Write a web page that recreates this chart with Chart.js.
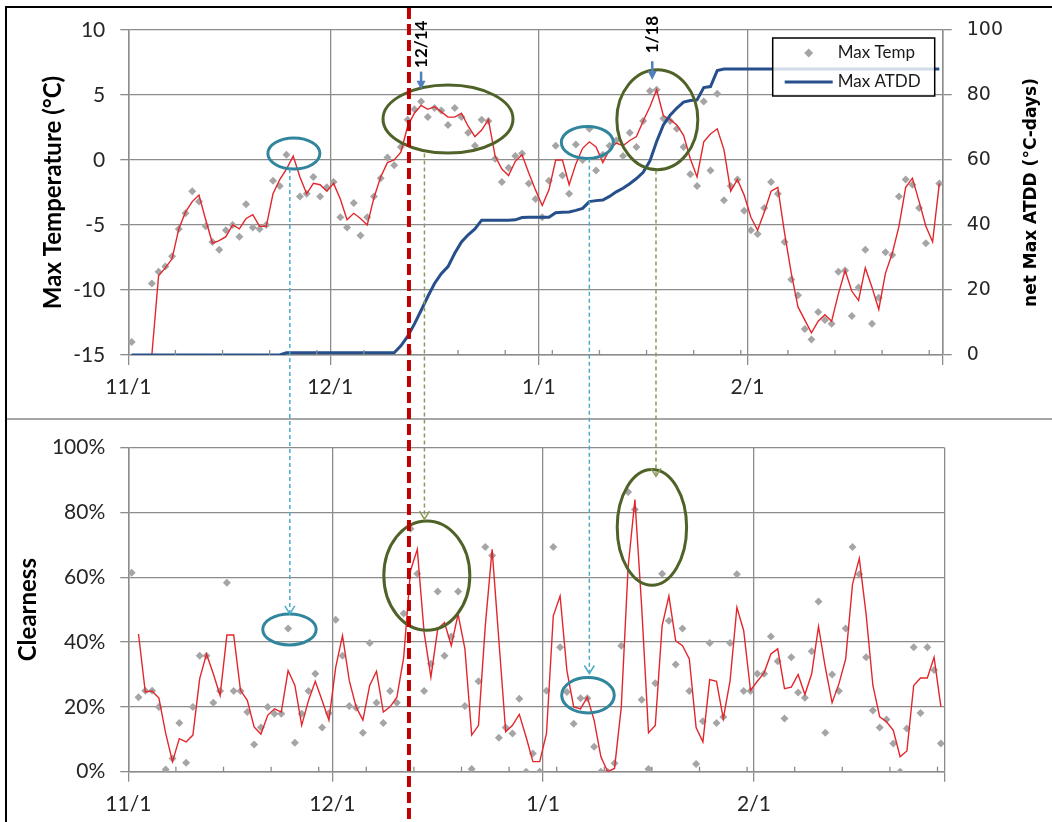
<!DOCTYPE html>
<html>
<head>
<meta charset="utf-8">
<title>Max temperature, ATDD and clearness</title>
<script src="https://cdn.jsdelivr.net/npm/chart.js@4.4.1/dist/chart.umd.min.js"></script>
<style>
  html, body { margin: 0; padding: 0; background: #fff; }
  #wrap { position: relative; width: 1052px; height: 822px; overflow: hidden; }
  #frame { position: absolute; left: 5px; top: 6px; width: 1060px; height: 830px;
           border-left: 2px solid #000; border-top: 2px solid #000; }
  #sep { position: absolute; left: 7px; right: 0; top: 418px; border-top: 2px solid #a6a6a6; }
  canvas { position: absolute; left: 0; }
  #topChart { top: 0; }
  #bottomChart { top: 420px; }
  #overlay { top: 0; pointer-events: none; }
</style>
</head>
<body>
<div id="wrap">
  <div id="frame"></div>
  <div id="sep"></div>
  <canvas id="topChart" width="1052" height="419"></canvas>
  <canvas id="bottomChart" width="1052" height="402"></canvas>
  <canvas id="overlay"></canvas>
</div>
<script>
// ---- data: one value per day, index 0 = 11/1 ----
const monthStarts = [0, 30, 61, 92];
const monthLabels = ['11/1', '12/1', '1/1', '2/1'];

const maxTemp = [
  -14.0, null, null, -9.5, -8.6, -8.2, -7.4, -5.3, -4.1, -2.4,
  -3.2, -5.1, -6.3, -6.9, -5.4, -5.0, -5.9, -3.4, -5.2, -5.3,
  -5.0, -1.6, -2.0, 0.4, null, -2.8, -2.6, -1.3, -2.8, -2.1,
  -1.7, -4.4, -5.2, -3.3, -5.8, -4.4, -2.8, -1.4, 0.2, -0.4,
  1.0, 3.1, 3.9, 4.5, 3.3, 4.0, 3.8, 2.7, 4.0, 3.3,
  2.1, 1.1, 3.1, 3.0, 0.1, -1.7, -0.6, 0.3, 0.5, -1.8,
  -3.0, -4.4, -1.6, 1.1, -1.2, -2.6, 1.2, 0.0, 2.4, -0.8,
  0.4, 1.1, 1.5, 0.3, 2.1, 1.0, 3.0, 5.3, 5.4, 3.2,
  3.0, 2.4, 1.0, -1.1, -2.0, 4.5, -0.8, 5.1, -3.1, -2.0,
  -1.5, -3.9, -5.4, -5.7, -3.7, -1.7, -2.6, -6.3, -9.2, -10.4,
  -13.0, -13.8, -11.7, -12.3, -12.6, -8.6, -8.5, -12.0, -9.8, -6.9,
  -12.6, -10.6, -7.1, -7.3, -2.8, -1.5, -1.9, -3.7, -6.4, null,
  -1.8
];

const maxTempAvg = [
  null, null, null, -15.0, -8.9, -8.3, -7.6, -5.3, -4.0, -3.2,
  -2.7, -4.6, -6.4, -6.2, -5.9, -5.0, -5.3, -4.5, -4.2, -5.1,
  -5.1, -2.6, -1.5, -0.7, 0.3, -1.3, -2.6, -1.8, -1.9, -2.4,
  -1.8, -3.0, -4.6, -4.1, -4.5, -5.0, -2.9, -1.3, -0.2, 0.0,
  0.6, 2.6, 3.6, 4.2, 3.9, 4.1, 3.7, 3.3, 3.3, 3.6,
  2.6, 1.8, 2.3, 3.1, 0.3, -0.7, -1.2, -0.1, 0.4, -1.0,
  -2.3, -3.5, -2.3, 0.0, 0.0, -1.9, -0.3, 0.9, 1.4, 1.0,
  -0.2, 0.8, 1.3, 1.1, 1.5, 1.8, 3.0, 4.1, 5.4, 3.4,
  3.1, 2.7, 1.9, 0.1, -1.3, 1.4, 2.0, 2.4, 0.8, -2.4,
  -1.5, -2.7, -4.4, -5.4, -4.0, -2.4, -2.1, -5.6, -8.7, -11.3,
  -12.3, -13.3, -12.4, -11.9, -12.4, -10.3, -8.5, -10.1, -10.8, -8.3,
  -9.8, -11.5, -8.7, -7.2, -5.1, -2.1, -1.4, -3.2, -5.1, -6.3,
  -1.8
];

const maxAtdd = [
  0, 0, 0, 0, 0, 0, 0, 0, 0, 0,
  0, 0, 0, 0, 0, 0, 0, 0, 0, 0,
  0, 0, 0, 0.7, 0.7, 0.7, 0.7, 0.7, 0.7, 0.7,
  0.7, 0.7, 0.7, 0.7, 0.7, 0.7, 0.7, 0.7, 0.7, 0.7,
  2.8, 5.7, 9.5, 13.7, 18.0, 22.0, 25.0, 27.2, 31.3, 34.8,
  37.0, 38.8, 41.5, 41.5, 41.5, 41.5, 41.5, 41.6, 42.3, 42.4,
  42.4, 42.4, 42.4, 43.8, 43.9, 44.0, 44.5, 45.1, 47.2, 47.5,
  47.7, 48.8, 50.2, 51.3, 52.7, 54.3, 56.2, 59.7, 65.7, 70.8,
  73.8, 76.0, 77.8, 78.3, 78.5, 82.3, 82.6, 87.5, 88, 88,
  88, 88, 88, 88, 88, 88, 88, 88, 88, 88,
  88, 88, 88, 88, 88, 88, 88, 88, 88, 88,
  88, 88, 88, 88, 88, 88, 88, 88, 88, 88,
  88
];

const clearness = [
  61.4, 23.0, 25.0, 25.0, 20.0, 0.7, 4.1, 15.0, 2.8, 20.0,
  35.8, 35.8, 21.3, 24.9, 58.3, 24.9, 24.9, 18.4, 8.4, 13.6,
  20.0, 17.9, 17.9, 44.2, 8.9, 17.9, 24.9, 30.2, 13.6, 18.0,
  46.9, 35.8, 20.3, 19.7, 12.0, 39.7, 21.3, 15.0, 24.9, 21.3,
  48.8, 75.0, 61.1, 24.9, 33.3, 55.6, 35.8, 41.7, 55.6, 20.3,
  0.8, 27.9, 69.3, 66.7, 10.5, 13.6, 11.8, 22.5, 0.0, 5.6,
  0.0, 25.0, 69.3, 38.4, 24.6, 14.8, 22.7, 22.7, 7.7, 0.0,
  0.0, 2.6, 38.9, 86.3, 80.9, 22.2, 0.8, 27.3, 61.1, 46.6,
  33.1, 44.2, 24.9, 2.4, 15.6, 39.7, 15.0, 16.9, 39.7, 60.9,
  24.9, 24.9, 30.2, 30.2, 41.7, 34.1, 16.4, 35.3, 24.4, 22.8,
  37.2, 52.5, 12.0, 30.0, 24.9, 44.2, 69.3, 60.9, 35.3, 18.9,
  13.6, 16.1, 8.7, 0.0, 13.3, 38.4, 18.1, 38.4, 31.4, 8.7
];

const clearnessAvg = [
  null, 42.5, 24.6, 24.9, 22.7, 11.8, 3.1, 10.2, 9.2, 11.3,
  28.7, 36.3, 30.2, 23.5, 42.2, 42.2, 25.1, 22.0, 13.8, 11.6,
  17.4, 19.4, 18.4, 31.2, 26.6, 14.3, 22.0, 27.9, 22.0, 15.9,
  32.2, 42.0, 28.1, 20.0, 15.9, 26.6, 31.0, 18.4, 20.0, 23.0,
  35.3, 62.0, 68.6, 43.0, 29.2, 44.0, 46.0, 38.9, 48.6, 37.9,
  11.3, 14.3, 45.0, 68.6, 40.4, 12.3, 14.3, 17.7, 10.7, 3.1,
  3.1, 11.8, 48.1, 54.2, 31.2, 20.0, 19.4, 23.0, 15.9, 4.6,
  0.0, 1.0, 20.0, 63.0, 84.0, 50.7, 12.0, 14.3, 45.0, 54.2,
  40.4, 38.9, 34.8, 13.6, 9.2, 28.4, 27.9, 16.4, 28.1, 50.7,
  43.5, 25.1, 27.9, 30.5, 36.3, 37.9, 25.6, 26.1, 30.0, 23.8,
  30.2, 44.8, 32.2, 21.3, 27.1, 34.8, 57.8, 65.8, 48.6, 26.6,
  16.9, 15.4, 12.8, 4.6, 6.4, 26.6, 28.9, 28.9, 35.3, 20.0
];

// ---- styling ----
const GRID = '#8c8c8c';
const TEXT = '#262626';
const TEAL = '#31859c';
const TEAL_LIGHT = '#4bacc6';
const OLIVE = '#4f6228';
const OLIVE_LIGHT = '#8a9a5b';
const tickFont = { family: 'Lato', size: 21 };
const titleFont = { family: 'Lato', size: 24, weight: 'bold' };

// each day's value sits in the middle of its day on the date axis
const toPoints = arr => arr.map((v, i) => ({ x: i + 0.5, y: v }));

const weekDays = [];
for (let d = 7; d < 121; d += 7) weekDays.push(d);

function dateAxis(maxDay, height) {
  const isMajor = v => monthStarts.includes(v) || v === maxDay;
  const gridColor = c => (c.tick && isMajor(c.tick.value)) ? GRID : 'rgba(0,0,0,0)';
  return {
    type: 'linear',
    min: 0,
    max: maxDay,
    afterBuildTicks: s => { s.ticks = monthStarts.concat([maxDay]).map(v => ({ value: v })); },
    afterFit: s => { s.height = height; },
    ticks: {
      autoSkip: false, maxRotation: 0, padding: 10, color: TEXT, font: tickFont,
      callback: v => { const k = monthStarts.indexOf(v); return k < 0 ? '' : monthLabels[k]; }
    },
    grid: { color: gridColor, tickColor: gridColor, lineWidth: 1.3, tickLength: 10 },
    border: { color: GRID, width: 1.5 }
  };
}

// small weekly tick marks pointing into the plot
const innerTicks = {
  id: 'innerTicks',
  afterDraw(chart) {
    const { ctx, chartArea } = chart;
    const x = chart.scales.x;
    ctx.save();
    ctx.strokeStyle = GRID;
    ctx.lineWidth = 1.3;
    weekDays.forEach(d => {
      if (d >= x.max) return;
      const px = x.getPixelForValue(d);
      ctx.beginPath();
      ctx.moveTo(px, chartArea.bottom);
      ctx.lineTo(px, chartArea.bottom - 5);
      ctx.stroke();
    });
    ctx.restore();
  }
};

// framed legend inside the top-right corner, plus the right axis title
const topExtras = {
  id: 'topExtras',
  afterDatasetsDraw(chart) {
    const { ctx, chartArea: a } = chart;
    const x0 = a.right - 170, y0 = a.top + 8, w = 162, h = 58;
    ctx.save();
    ctx.fillStyle = 'rgba(255,255,255,0.8)';
    ctx.fillRect(x0, y0, w, h);
    ctx.strokeStyle = '#000';
    ctx.lineWidth = 1.5;
    ctx.strokeRect(x0, y0, w, h);

    ctx.fillStyle = '#a5a5a5';
    ctx.beginPath();
    const cx = x0 + 36, cy = y0 + 15;
    ctx.moveTo(cx, cy - 4.5); ctx.lineTo(cx + 4.5, cy); ctx.lineTo(cx, cy + 4.5); ctx.lineTo(cx - 4.5, cy);
    ctx.closePath();
    ctx.fill();

    ctx.strokeStyle = '#264f8b';
    ctx.lineWidth = 3;
    ctx.beginPath();
    ctx.moveTo(x0 + 12, y0 + 44);
    ctx.lineTo(x0 + 60, y0 + 44);
    ctx.stroke();

    ctx.fillStyle = '#1a1a1a';
    ctx.font = '17px Lato';
    ctx.textBaseline = 'middle';
    ctx.fillText('Max Temp', x0 + 65, y0 + 15);
    ctx.fillText('Max ATDD', x0 + 65, y0 + 44);
    ctx.restore();
  },
  afterDraw(chart) {
    const { ctx, chartArea: a } = chart;
    const y2 = chart.scales.y2;
    ctx.save();
    ctx.translate(y2.right - 20, (a.top + a.bottom) / 2);
    ctx.rotate(-Math.PI / 2);
    ctx.fillStyle = '#000';
    ctx.font = 'bold 17px "DejaVu Sans"';
    ctx.textAlign = 'center';
    ctx.textBaseline = 'middle';
    ctx.fillText('net Max ATDD (°C-days)', 0, 0);
    ctx.restore();
  }
};

const topChart = new Chart(document.getElementById('topChart'), {
  type: 'line',
  data: {
    datasets: [
      { label: 'Max Temp', data: toPoints(maxTemp), showLine: false, pointStyle: 'rectRot',
        pointRadius: 4, pointBackgroundColor: '#a5a5a5', pointBorderWidth: 0, order: 3 },
      { label: 'Moving average', data: toPoints(maxTempAvg), borderColor: '#e3262b', borderWidth: 1.4,
        pointRadius: 0, order: 2 },
      { label: 'Max ATDD', data: toPoints(maxAtdd), yAxisID: 'y2', borderColor: '#264f8b', borderWidth: 3,
        pointRadius: 0, order: 1 }
    ]
  },
  options: {
    responsive: false,
    animation: false,
    layout: { padding: { top: 30, left: 0, right: 0, bottom: 0 } },
    plugins: { legend: { display: false }, tooltip: { enabled: false } },
    scales: {
      x: dateAxis(121, 64),
      y: {
        position: 'left', min: -15, max: 10,
        afterFit: s => { s.width = 128.3; },
        ticks: { stepSize: 5, padding: 15, color: TEXT, font: tickFont },
        grid: { color: GRID, lineWidth: 1.3, tickLength: 8 },
        border: { color: GRID, width: 1.5 },
        title: { display: true, text: 'Max Temperature (°C)', color: '#000', font: titleFont,
                 padding: { top: 38.6, bottom: 0 } }
      },
      y2: {
        position: 'right', min: 0, max: 100,
        afterFit: s => { s.width = 109.3; },
        ticks: { stepSize: 20, padding: 15, color: TEXT, font: { family: 'DejaVu Sans', size: 19 } },
        grid: { drawOnChartArea: false, color: GRID, lineWidth: 1.3, tickLength: 9 },
        border: { color: GRID, width: 1.5 }
      }
    }
  },
  plugins: [innerTicks, topExtras]
});

const bottomChart = new Chart(document.getElementById('bottomChart'), {
  type: 'line',
  data: {
    datasets: [
      { label: 'Clearness', data: toPoints(clearness), showLine: false, pointStyle: 'rectRot',
        pointRadius: 4, pointBackgroundColor: '#a5a5a5', pointBorderWidth: 0, order: 2 },
      { label: 'Moving average', data: toPoints(clearnessAvg), borderColor: '#e3262b', borderWidth: 1.4,
        pointRadius: 0, order: 1 }
    ]
  },
  options: {
    responsive: false,
    animation: false,
    layout: { padding: { top: 26, left: 0, right: 107.7, bottom: 0 } },
    plugins: { legend: { display: false }, tooltip: { enabled: false } },
    scales: {
      x: dateAxis(120, 50.3),
      y: {
        min: 0, max: 100,
        afterFit: s => { s.width = 128.3; },
        ticks: { stepSize: 20, padding: 15, color: TEXT, font: tickFont, callback: v => v + '%' },
        grid: { color: GRID, lineWidth: 1.3, tickLength: 8 },
        border: { color: GRID, width: 1.5 },
        title: { display: true, text: 'Clearness', color: '#000', font: titleFont,
                 padding: { top: 13.9, bottom: 0 } }
      }
    }
  },
  plugins: [innerTicks]
});

// ---- annotations drawn across both charts ----
const BOTTOM_OFFSET = 420;
const ringsTop = [
  { x: 24.6, y: 0.5, rx: 26, ry: 15.5, color: TEAL },
  { x: 47.5, y: 3.15, rx: 65, ry: 34, color: OLIVE },
  { x: 68.2, y: 1.35, rx: 26, ry: 16, color: TEAL },
  { x: 78.6, y: 3.1, rx: 40.5, ry: 50, color: OLIVE }
];
const ringsBottom = [
  { x: 23.7, y: 43.9, rx: 26.7, ry: 15.5, color: TEAL },
  { x: 43.9, y: 60.5, rx: 43, ry: 54.7, color: OLIVE },
  { x: 67.6, y: 23.6, rx: 26.3, ry: 17.7, color: TEAL },
  { x: 77.0, y: 75.4, rx: 34.7, ry: 57.8, color: OLIVE }
];
// x on the top date axis, from = top chart value, to = bottom chart value
const links = [
  { x: 24.0, from: -0.7, to: 48.7, color: TEAL_LIGHT },
  { x: 44.0, from: 0.5, to: 77.9, color: OLIVE_LIGHT },
  { x: 68.5, from: 0.1, to: 30.3, color: TEAL_LIGHT },
  { x: 78.4, from: -0.8, to: 91.1, color: OLIVE_LIGHT }
];
const callouts = [
  { text: '12/14', x: 43.5, labelY: 8.9, arrowFrom: 6.8, arrowTo: 5.4 },
  { text: '1/18', x: 77.85, labelY: 9.65, arrowFrom: 7.6, arrowTo: 6.15 }
];
const markerDay = 41.7;

function drawOverlay() {
  const canvas = document.getElementById('overlay');
  const dpr = window.devicePixelRatio || 1;
  canvas.width = 1052 * dpr;
  canvas.height = 822 * dpr;
  canvas.style.width = '1052px';
  canvas.style.height = '822px';
  const ctx = canvas.getContext('2d');
  ctx.scale(dpr, dpr);

  const tx = topChart.scales.x, ty = topChart.scales.y;
  const bx = bottomChart.scales.x, by = bottomChart.scales.y;

  const ring = (px, py, r) => {
    ctx.save();
    ctx.strokeStyle = r.color;
    ctx.lineWidth = 3;
    ctx.beginPath();
    ctx.ellipse(px, py, r.rx, r.ry, 0, 0, Math.PI * 2);
    ctx.stroke();
    ctx.restore();
  };
  ringsTop.forEach(r => ring(tx.getPixelForValue(r.x), ty.getPixelForValue(r.y), r));
  ringsBottom.forEach(r => ring(bx.getPixelForValue(r.x), BOTTOM_OFFSET + by.getPixelForValue(r.y), r));

  links.forEach(l => {
    const px = tx.getPixelForValue(l.x);
    const y1 = ty.getPixelForValue(l.from);
    const y2 = BOTTOM_OFFSET + by.getPixelForValue(l.to);
    ctx.save();
    ctx.strokeStyle = l.color;
    ctx.lineWidth = 1.5;
    ctx.setLineDash([4, 3]);
    ctx.beginPath();
    ctx.moveTo(px, y1);
    ctx.lineTo(px, y2 - 1);
    ctx.stroke();
    ctx.setLineDash([]);
    ctx.beginPath();
    ctx.moveTo(px - 5, y2 - 8);
    ctx.lineTo(px, y2);
    ctx.lineTo(px + 5, y2 - 8);
    ctx.stroke();
    ctx.restore();
  });

  // event marker
  const mx = tx.getPixelForValue(markerDay);
  ctx.save();
  ctx.strokeStyle = '#c00000';
  ctx.lineWidth = 4;
  ctx.setLineDash([11, 5]);
  ctx.beginPath();
  ctx.moveTo(mx, 8);
  ctx.lineTo(mx, 822);
  ctx.stroke();
  ctx.restore();

  callouts.forEach(c => {
    const px = tx.getPixelForValue(c.x);
    ctx.save();
    ctx.translate(px, ty.getPixelForValue(c.labelY));
    ctx.rotate(-Math.PI / 2);
    ctx.fillStyle = '#000';
    ctx.font = 'bold 17px Lato';
    ctx.textAlign = 'center';
    ctx.textBaseline = 'middle';
    ctx.fillText(c.text, 0, 0);
    ctx.restore();

    const a1 = ty.getPixelForValue(c.arrowFrom), a2 = ty.getPixelForValue(c.arrowTo);
    ctx.save();
    ctx.strokeStyle = '#4f81bd';
    ctx.fillStyle = '#4f81bd';
    ctx.lineWidth = 2.5;
    ctx.beginPath();
    ctx.moveTo(px, a1);
    ctx.lineTo(px, a2 - 8);
    ctx.stroke();
    ctx.beginPath();
    ctx.moveTo(px - 4.5, a2 - 9);
    ctx.lineTo(px + 4.5, a2 - 9);
    ctx.lineTo(px, a2);
    ctx.closePath();
    ctx.fill();
    ctx.restore();
  });
}
drawOverlay();
</script>
</body>
</html>
